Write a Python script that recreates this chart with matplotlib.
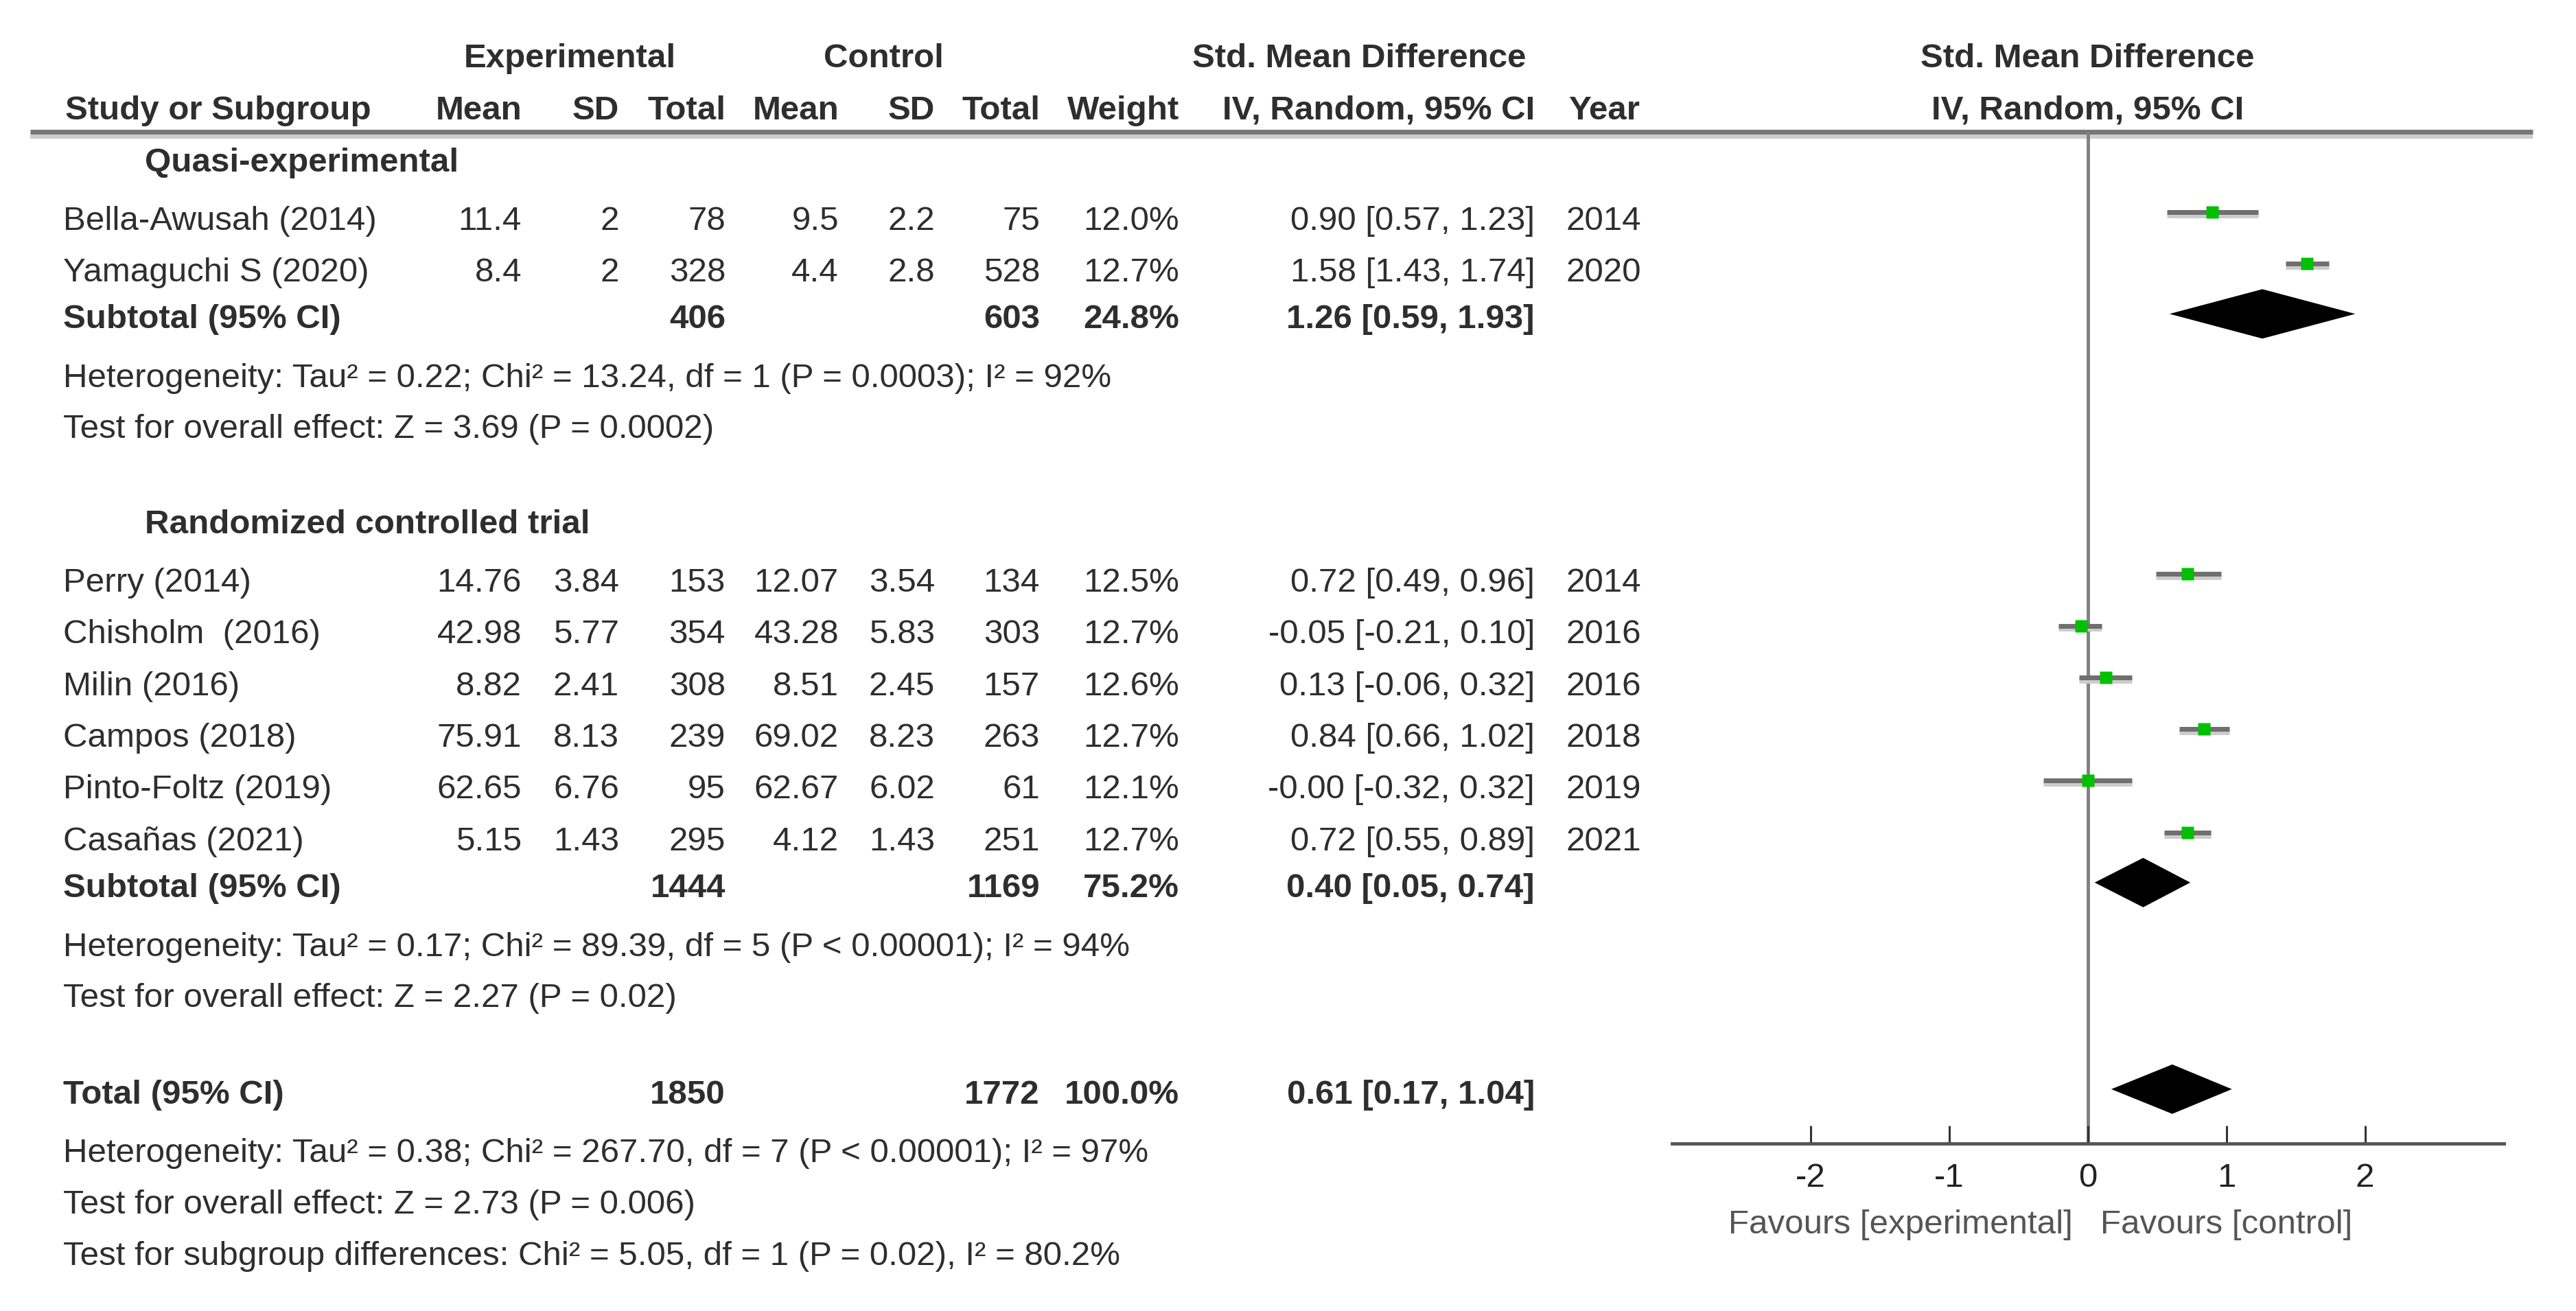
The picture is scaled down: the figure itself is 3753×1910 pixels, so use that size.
import matplotlib
matplotlib.use('Agg')
import matplotlib.pyplot as plt
from matplotlib.patches import Polygon
import matplotlib.patheffects as pe

plt.rcParams['font.family'] = ['Liberation Sans', 'DejaVu Sans']
plt.rcParams['axes.unicode_minus'] = False

# ---- data ----
quasi_names = ['Bella-Awusah (2014)', 'Yamaguchi S (2020)']
quasi_exp_mean = ['11.4', '8.4']
quasi_exp_sd = ['2', '2']
quasi_exp_n = [78, 328]
quasi_ctl_mean = ['9.5', '4.4']
quasi_ctl_sd = ['2.2', '2.8']
quasi_ctl_n = [75, 528]
quasi_weight = [12.0, 12.7]
quasi_smd = [0.90, 1.58]
quasi_lo = [0.57, 1.43]
quasi_hi = [1.23, 1.74]
quasi_year = [2014, 2020]

rct_names = ['Perry (2014)', 'Chisholm  (2016)', 'Milin (2016)', 'Campos (2018)',
             'Pinto-Foltz (2019)', 'Casañas (2021)']
rct_exp_mean = ['14.76', '42.98', '8.82', '75.91', '62.65', '5.15']
rct_exp_sd = ['3.84', '5.77', '2.41', '8.13', '6.76', '1.43']
rct_exp_n = [153, 354, 308, 239, 95, 295]
rct_ctl_mean = ['12.07', '43.28', '8.51', '69.02', '62.67', '4.12']
rct_ctl_sd = ['3.54', '5.83', '2.45', '8.23', '6.02', '1.43']
rct_ctl_n = [134, 303, 157, 263, 61, 251]
rct_weight = [12.5, 12.7, 12.6, 12.7, 12.1, 12.7]
rct_smd = [0.72, -0.05, 0.13, 0.84, -0.0, 0.72]
rct_lo = [0.49, -0.21, -0.06, 0.66, -0.32, 0.55]
rct_hi = [0.96, 0.10, 0.32, 1.02, 0.32, 0.89]
rct_year = [2014, 2016, 2016, 2018, 2019, 2021]

group_titles = ['Quasi-experimental', 'Randomized controlled trial']
sub_exp_n = [406, 1444]
sub_ctl_n = [603, 1169]
sub_weight = [24.8, 75.2]
sub_smd = [1.26, 0.40]
sub_lo = [0.59, 0.05]
sub_hi = [1.93, 0.74]
sub_het = ['Heterogeneity: Tau² = 0.22; Chi² = 13.24, df = 1 (P = 0.0003); I² = 92%',
           'Heterogeneity: Tau² = 0.17; Chi² = 89.39, df = 5 (P < 0.00001); I² = 94%']
sub_test = ['Test for overall effect: Z = 3.69 (P = 0.0002)',
            'Test for overall effect: Z = 2.27 (P = 0.02)']

total_exp_n = 1850
total_ctl_n = 1772
total_weight = 100.0
total_smd, total_lo, total_hi = 0.61, 0.17, 1.04
total_notes = ['Heterogeneity: Tau² = 0.38; Chi² = 267.70, df = 7 (P < 0.00001); I² = 97%',
               'Test for overall effect: Z = 2.73 (P = 0.006)',
               'Test for subgroup differences: Chi² = 5.05, df = 1 (P = 0.02), I² = 80.2%']

xticks = [-2, -1, 0, 1, 2]
favours = ['Favours [experimental]', 'Favours [control]']

groups = [
    (quasi_names, quasi_exp_mean, quasi_exp_sd, quasi_exp_n, quasi_ctl_mean, quasi_ctl_sd,
     quasi_ctl_n, quasi_weight, quasi_smd, quasi_lo, quasi_hi, quasi_year),
    (rct_names, rct_exp_mean, rct_exp_sd, rct_exp_n, rct_ctl_mean, rct_ctl_sd,
     rct_ctl_n, rct_weight, rct_smd, rct_lo, rct_hi, rct_year),
]

# ---- layout (pixels of the 3753x1910 canvas) ----
W, H = 3753, 1910
FS = 35.5
TXT = '#2e2e2e'
x_name, x_title = 92, 211
x_cols = [760, 902, 1057, 1222, 1362, 1515, 1718, 2236]  # right aligned
x_year = 2282
y_line, y_axis = 192, 1666
zero_px, px_per_unit = 3041.6, 202.0

fig = plt.figure(figsize=(W / 100, H / 100), dpi=100)
ax0 = fig.add_axes([0, 0, 1, 1])
ax0.set_xlim(0, W)
ax0.set_ylim(H, 0)
ax0.axis('off')

left_px = zero_px - 3 * px_per_unit
axf = fig.add_axes([left_px / W, (H - y_axis) / H, 6 * px_per_unit / W, (y_axis - y_line) / H])
axf.set_xlim(-3, 3)
axf.set_ylim(y_axis, y_line)
axf.patch.set_alpha(0)


def txt(x, y, s, ha='left', bold=False, color=TXT, size=FS):
    # y is the visual middle of capitals
    ax0.text(x, y + 0.36 * size * 100 / 72, s, ha=ha, va='baseline', fontsize=size,
             fontweight='bold' if bold else 'normal', color=color)


def ci_text(m, lo, hi):
    return f'{m:.2f} [{lo:.2f}, {hi:.2f}]'


# headers
txt(830, 80, 'Experimental', ha='center', bold=True)
txt(1287, 80, 'Control', ha='center', bold=True)
txt(1980, 80, 'Std. Mean Difference', ha='center', bold=True)
txt(zero_px, 80, 'Std. Mean Difference', ha='center', bold=True)
txt(95, 156, 'Study or Subgroup', bold=True)
for x, s in zip(x_cols, ['Mean', 'SD', 'Total', 'Mean', 'SD', 'Total', 'Weight', 'IV, Random, 95% CI']):
    txt(x, 156, s, ha='right', bold=True)
txt(2285, 156, 'Year', bold=True)
txt(zero_px, 156, 'IV, Random, 95% CI', ha='center', bold=True)

ax0.plot([44, 3690], [y_line + 7, y_line + 7], color='#cdcdcd', lw=4.5, solid_capstyle='butt')
ax0.plot([44, 3690], [y_line, y_line], color='#777777', lw=5, solid_capstyle='butt')

shadow = [pe.SimpleLineShadow(offset=(0, -3.5), shadow_color='#cccccc', alpha=1), pe.Normal()]
diam_h = 36

y = 232
for gi, g in enumerate(groups):
    names, em, es, en, cm, cs, cn, wt, smd, lo, hi, yr = g
    txt(x_title, y, group_titles[gi], bold=True)
    y += 85
    ys = []
    for i in range(len(names)):
        txt(x_name, y, names[i])
        vals = [em[i], es[i], str(en[i]), cm[i], cs[i], str(cn[i]), f'{wt[i]:.1f}%',
                ci_text(smd[i], lo[i], hi[i])]
        for x, s in zip(x_cols, vals):
            txt(x, y, s, ha='right')
        txt(x_year, y, str(yr[i]))
        ys.append(y - 8)
        y += 75.3
    axf.hlines(ys, lo, hi, color='#6f6f6f', lw=5, path_effects=shadow, zorder=2)
    axf.plot(smd, ys, ls='none', marker='s', ms=13, color='#00c000', mec='none', zorder=3)
    y += 68 - 75.3
    txt(x_name, y, 'Subtotal (95% CI)', bold=True)
    txt(x_cols[2], y, str(sub_exp_n[gi]), ha='right', bold=True)
    txt(x_cols[5], y, str(sub_ctl_n[gi]), ha='right', bold=True)
    txt(x_cols[6], y, f'{sub_weight[gi]:.1f}%', ha='right', bold=True)
    txt(x_cols[7], y, ci_text(sub_smd[gi], sub_lo[gi], sub_hi[gi]), ha='right', bold=True)
    yd = y - 3
    axf.add_patch(Polygon([(sub_lo[gi], yd), (sub_smd[gi], yd - diam_h), (sub_hi[gi], yd),
                           (sub_smd[gi], yd + diam_h)], closed=True, fc='black', ec='none', zorder=3))
    y += 86
    txt(x_name, y, sub_het[gi])
    y += 74
    txt(x_name, y, sub_test[gi])
    y += 139

y += 2
txt(x_name, y, 'Total (95% CI)', bold=True)
txt(x_cols[2], y, str(total_exp_n), ha='right', bold=True)
txt(x_cols[5], y, str(total_ctl_n), ha='right', bold=True)
txt(x_cols[6], y, f'{total_weight:.1f}%', ha='right', bold=True)
txt(x_cols[7], y, ci_text(total_smd, total_lo, total_hi), ha='right', bold=True)
yd = y - 3
axf.add_patch(Polygon([(total_lo, yd), (total_smd, yd - diam_h), (total_hi, yd),
                       (total_smd, yd + diam_h)], closed=True, fc='black', ec='none', zorder=3))
y += 85
for note in total_notes:
    txt(x_name, y, note)
    y += 75

# forest axis
axf.axvline(0, color='#808080', lw=3.5, zorder=1)
for side in ['top', 'left', 'right']:
    axf.spines[side].set_visible(False)
axf.spines['bottom'].set_color('#555555')
axf.spines['bottom'].set_linewidth(3.5)
axf.set_yticks([])
axf.set_xticks(xticks)
axf.set_xticklabels([str(t) for t in xticks])
axf.tick_params(axis='x', direction='in', length=19, width=2.2, color='#333333',
                pad=20, labelsize=FS, labelcolor='#222222')

txt(zero_px - 22, 1779, favours[0], ha='right', color='#555555')
txt(zero_px + 18, 1779, favours[1], ha='left', color='#555555')

fig.savefig('out.png', dpi=100)
